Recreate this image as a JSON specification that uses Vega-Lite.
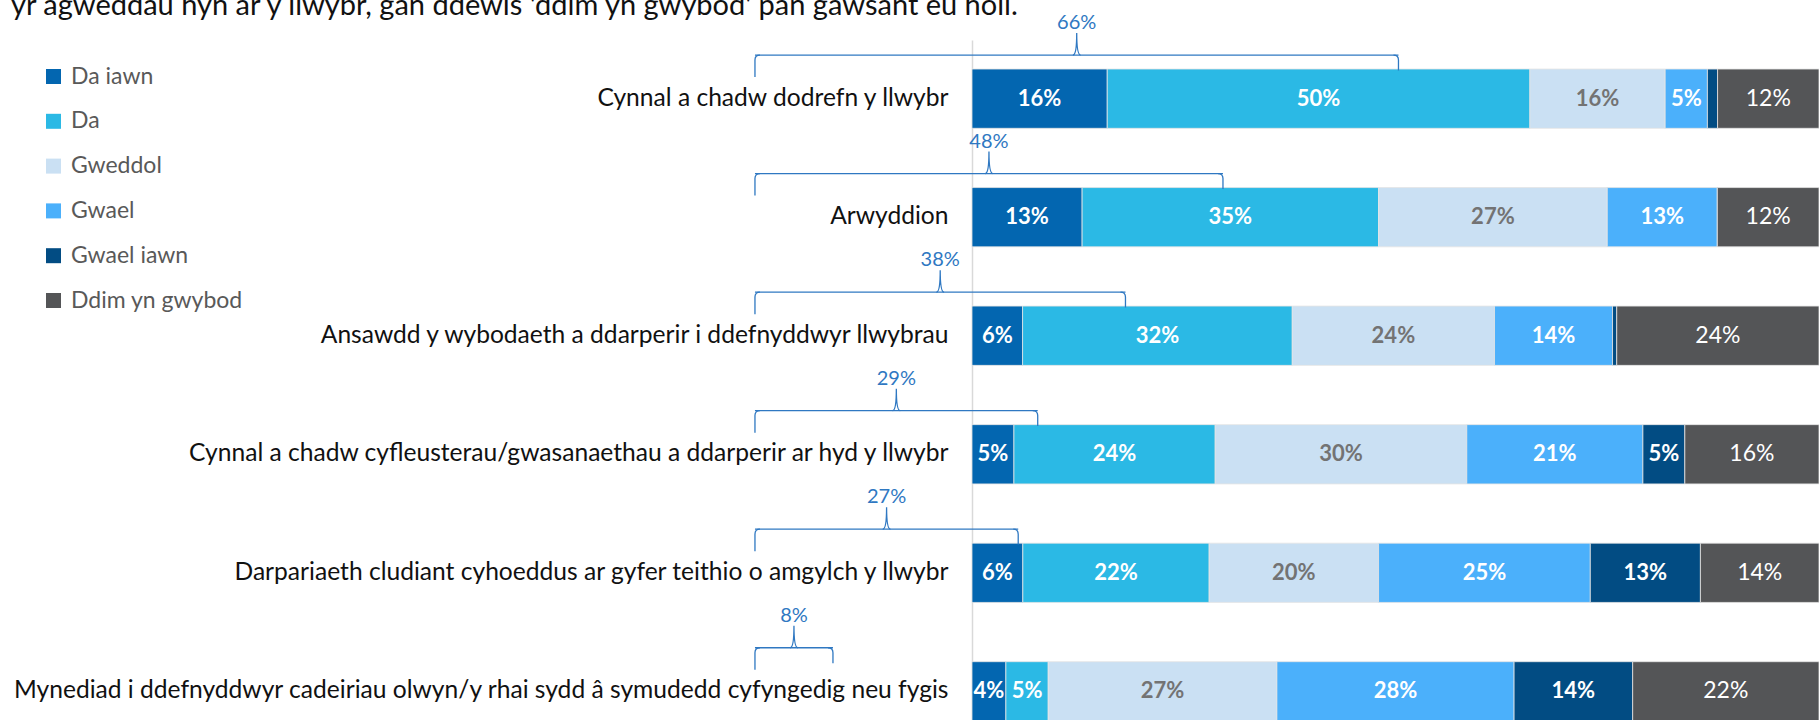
{
  "$schema": "https://vega.github.io/schema/vega-lite/v6.json",
  "width": 847,
  "height": 710,
  "autosize": {"type": "none"},
  "padding": {"left": 972, "top": 40, "right": 0, "bottom": 0},
  "background": "white",
  "config": {"view": {"stroke": null}, "font": "Lato"},
  "title": {
    "text": "yr agweddau hyn ar y llwybr, gan ddewis 'ddim yn gwybod' pan gawsant eu holi.",
    "anchor": "start", "frame": "group", "orient": "top", "offset": 0,
    "baseline": "alphabetic", "dx": -961, "dy": 31,
    "font": "Lato", "fontSize": 29, "fontWeight": "normal", "color": "#111111"
  },
  "datasets": {
    "ratings": [
      {"item": "Cynnal a chadw dodrefn y llwybr", "cat": "Da iawn", "rank": 1, "value": 0.16},
      {"item": "Cynnal a chadw dodrefn y llwybr", "cat": "Da", "rank": 2, "value": 0.50},
      {"item": "Cynnal a chadw dodrefn y llwybr", "cat": "Gweddol", "rank": 3, "value": 0.16},
      {"item": "Cynnal a chadw dodrefn y llwybr", "cat": "Gwael", "rank": 4, "value": 0.05},
      {"item": "Cynnal a chadw dodrefn y llwybr", "cat": "Gwael iawn", "rank": 5, "value": 0.012},
      {"item": "Cynnal a chadw dodrefn y llwybr", "cat": "Ddim yn gwybod", "rank": 6, "value": 0.12},
      {"item": "Arwyddion", "cat": "Da iawn", "rank": 1, "value": 0.13},
      {"item": "Arwyddion", "cat": "Da", "rank": 2, "value": 0.35},
      {"item": "Arwyddion", "cat": "Gweddol", "rank": 3, "value": 0.27},
      {"item": "Arwyddion", "cat": "Gwael", "rank": 4, "value": 0.13},
      {"item": "Arwyddion", "cat": "Gwael iawn", "rank": 5, "value": 0},
      {"item": "Arwyddion", "cat": "Ddim yn gwybod", "rank": 6, "value": 0.12},
      {"item": "Ansawdd y wybodaeth a ddarperir i ddefnyddwyr llwybrau", "cat": "Da iawn", "rank": 1, "value": 0.06},
      {"item": "Ansawdd y wybodaeth a ddarperir i ddefnyddwyr llwybrau", "cat": "Da", "rank": 2, "value": 0.32},
      {"item": "Ansawdd y wybodaeth a ddarperir i ddefnyddwyr llwybrau", "cat": "Gweddol", "rank": 3, "value": 0.24},
      {"item": "Ansawdd y wybodaeth a ddarperir i ddefnyddwyr llwybrau", "cat": "Gwael", "rank": 4, "value": 0.14},
      {"item": "Ansawdd y wybodaeth a ddarperir i ddefnyddwyr llwybrau", "cat": "Gwael iawn", "rank": 5, "value": 0.005},
      {"item": "Ansawdd y wybodaeth a ddarperir i ddefnyddwyr llwybrau", "cat": "Ddim yn gwybod", "rank": 6, "value": 0.24},
      {"item": "Cynnal a chadw cyfleusterau/gwasanaethau a ddarperir ar hyd y llwybr", "cat": "Da iawn", "rank": 1, "value": 0.05},
      {"item": "Cynnal a chadw cyfleusterau/gwasanaethau a ddarperir ar hyd y llwybr", "cat": "Da", "rank": 2, "value": 0.24},
      {"item": "Cynnal a chadw cyfleusterau/gwasanaethau a ddarperir ar hyd y llwybr", "cat": "Gweddol", "rank": 3, "value": 0.30},
      {"item": "Cynnal a chadw cyfleusterau/gwasanaethau a ddarperir ar hyd y llwybr", "cat": "Gwael", "rank": 4, "value": 0.21},
      {"item": "Cynnal a chadw cyfleusterau/gwasanaethau a ddarperir ar hyd y llwybr", "cat": "Gwael iawn", "rank": 5, "value": 0.05},
      {"item": "Cynnal a chadw cyfleusterau/gwasanaethau a ddarperir ar hyd y llwybr", "cat": "Ddim yn gwybod", "rank": 6, "value": 0.16},
      {"item": "Darpariaeth cludiant cyhoeddus ar gyfer teithio o amgylch y llwybr", "cat": "Da iawn", "rank": 1, "value": 0.06},
      {"item": "Darpariaeth cludiant cyhoeddus ar gyfer teithio o amgylch y llwybr", "cat": "Da", "rank": 2, "value": 0.22},
      {"item": "Darpariaeth cludiant cyhoeddus ar gyfer teithio o amgylch y llwybr", "cat": "Gweddol", "rank": 3, "value": 0.20},
      {"item": "Darpariaeth cludiant cyhoeddus ar gyfer teithio o amgylch y llwybr", "cat": "Gwael", "rank": 4, "value": 0.25},
      {"item": "Darpariaeth cludiant cyhoeddus ar gyfer teithio o amgylch y llwybr", "cat": "Gwael iawn", "rank": 5, "value": 0.13},
      {"item": "Darpariaeth cludiant cyhoeddus ar gyfer teithio o amgylch y llwybr", "cat": "Ddim yn gwybod", "rank": 6, "value": 0.14},
      {"item": "Mynediad i ddefnyddwyr cadeiriau olwyn/y rhai sydd â symudedd cyfyngedig neu fygis", "cat": "Da iawn", "rank": 1, "value": 0.04},
      {"item": "Mynediad i ddefnyddwyr cadeiriau olwyn/y rhai sydd â symudedd cyfyngedig neu fygis", "cat": "Da", "rank": 2, "value": 0.05},
      {"item": "Mynediad i ddefnyddwyr cadeiriau olwyn/y rhai sydd â symudedd cyfyngedig neu fygis", "cat": "Gweddol", "rank": 3, "value": 0.27},
      {"item": "Mynediad i ddefnyddwyr cadeiriau olwyn/y rhai sydd â symudedd cyfyngedig neu fygis", "cat": "Gwael", "rank": 4, "value": 0.28},
      {"item": "Mynediad i ddefnyddwyr cadeiriau olwyn/y rhai sydd â symudedd cyfyngedig neu fygis", "cat": "Gwael iawn", "rank": 5, "value": 0.14},
      {"item": "Mynediad i ddefnyddwyr cadeiriau olwyn/y rhai sydd â symudedd cyfyngedig neu fygis", "cat": "Ddim yn gwybod", "rank": 6, "value": 0.22}
    ],
    "brackets": [
      {"item": "Cynnal a chadw dodrefn y llwybr", "good": 0.66},
      {"item": "Arwyddion", "good": 0.48},
      {"item": "Ansawdd y wybodaeth a ddarperir i ddefnyddwyr llwybrau", "good": 0.38},
      {"item": "Cynnal a chadw cyfleusterau/gwasanaethau a ddarperir ar hyd y llwybr", "good": 0.29},
      {"item": "Darpariaeth cludiant cyhoeddus ar gyfer teithio o amgylch y llwybr", "good": 0.27},
      {"item": "Mynediad i ddefnyddwyr cadeiriau olwyn/y rhai sydd â symudedd cyfyngedig neu fygis", "good": 0.08}
    ]
  },
  "layer": [
    {
      "data": {"name": "ratings"},
      "encoding": {
        "y": {
          "field": "item", "type": "nominal",
          "sort": [
            "Cynnal a chadw dodrefn y llwybr",
            "Arwyddion",
            "Ansawdd y wybodaeth a ddarperir i ddefnyddwyr llwybrau",
            "Cynnal a chadw cyfleusterau/gwasanaethau a ddarperir ar hyd y llwybr",
            "Darpariaeth cludiant cyhoeddus ar gyfer teithio o amgylch y llwybr",
            "Mynediad i ddefnyddwyr cadeiriau olwyn/y rhai sydd â symudedd cyfyngedig neu fygis"
          ],
          "scale": {"paddingInner": 0.5, "paddingOuter": 0.245},
          "axis": {
            "title": null, "ticks": false, "domain": true, "domainColor": "#d9d9d9", "domainWidth": 1.5,
            "labelFont": "Lato", "labelFontSize": 24.6, "labelColor": "#111111", "labelPadding": 24,
            "labelLimit": 1000, "grid": false
          }
        },
        "order": {"field": "rank", "type": "quantitative"}
      },
      "layer": [
        {
          "mark": {"type": "bar", "stroke": "#e4e4e4", "strokeWidth": 0.8},
          "encoding": {
            "x": {"field": "value", "type": "quantitative", "stack": "normalize", "axis": null},
            "color": {
              "field": "cat", "type": "nominal",
              "scale": {
                "domain": ["Da iawn", "Da", "Gweddol", "Gwael", "Gwael iawn", "Ddim yn gwybod"],
                "range": ["#0366b0", "#2bb9e5", "#cae0f3", "#4bb0fb", "#024c83", "#545557"]
              },
              "legend": {
                "title": null, "orient": "none", "legendX": -930, "legendY": 25,
                "symbolType": "square", "symbolSize": 225, "symbolStrokeWidth": 0,
                "labelFont": "Lato", "labelFontSize": 23, "labelColor": "#595959", "labelOffset": 6,
                "labelLimit": 400, "rowPadding": 20.8
              }
            }
          }
        },
        {
          "mark": {"type": "text", "font": "Lato", "fontSize": 22, "fontWeight": "bold", "baseline": "middle"},
          "encoding": {
            "x": {"field": "value", "type": "quantitative", "stack": "normalize", "bandPosition": 0.5},
            "text": {
              "condition": {"test": "datum.value < 0.035 || datum.cat === 'Ddim yn gwybod'", "value": ""},
              "field": "value", "type": "quantitative", "format": ".0%"
            },
            "color": {
              "condition": {"test": "datum.cat === 'Gweddol'", "value": "#737373"},
              "value": "#ffffff"
            }
          }
        },
        {
          "mark": {"type": "text", "font": "Lato", "fontSize": 23, "fontWeight": "normal", "baseline": "middle", "color": "#ffffff"},
          "encoding": {
            "x": {"field": "value", "type": "quantitative", "stack": "normalize", "bandPosition": 0.5},
            "text": {
              "condition": {"test": "datum.cat !== 'Ddim yn gwybod'", "value": ""},
              "field": "value", "type": "quantitative", "format": ".0%"
            }
          }
        }
      ]
    },
    {
      "data": {"name": "brackets"},
      "encoding": {
        "y": {
          "field": "item", "type": "nominal",
          "sort": [
            "Cynnal a chadw dodrefn y llwybr",
            "Arwyddion",
            "Ansawdd y wybodaeth a ddarperir i ddefnyddwyr llwybrau",
            "Cynnal a chadw cyfleusterau/gwasanaethau a ddarperir ar hyd y llwybr",
            "Darpariaeth cludiant cyhoeddus ar gyfer teithio o amgylch y llwybr",
            "Mynediad i ddefnyddwyr cadeiriau olwyn/y rhai sydd â symudedd cyfyngedig neu fygis"
          ]
        }
      },
      "layer": [
        {
          "mark": {"type": "bar", "color": "#2f78c2", "height": 1.3, "yOffset": -43.6},
          "encoding": {
            "x": {"field": "good", "type": "quantitative", "stack": "zero", "scale": {"domain": [0.2226, 1.0913], "zero": false, "nice": false}, "axis": null}
          }
        },
        {
          "mark": {"type": "point", "shape": "M0.45,-1 Q0,-1 0,-0.55 L0,1", "size": 484, "filled": false, "stroke": "#2f78c2", "strokeWidth": 1.3, "opacity": 1, "yOffset": -32.6},
          "encoding": {
            "x": {"field": "good", "type": "quantitative", "stack": "zero", "bandPosition": 0}
          }
        },
        {
          "mark": {"type": "point", "shape": "M-0.45,-1 Q0,-1 0,-0.55 L0,0.4", "size": 484, "filled": false, "stroke": "#2f78c2", "strokeWidth": 1.3, "opacity": 1, "yOffset": -32.6},
          "encoding": {
            "x": {"field": "good", "type": "quantitative"}
          }
        },
        {
          "mark": {"type": "point", "shape": "M-0.35,1 Q0,1 0,-1 Q0,1 0.35,1", "size": 484, "filled": false, "stroke": "#2f78c2", "strokeWidth": 1.3, "opacity": 1, "yOffset": -54.6},
          "encoding": {
            "x": {"field": "good", "type": "quantitative", "stack": "zero", "bandPosition": 0.5}
          }
        },
        {
          "mark": {"type": "text", "font": "Lato", "fontSize": 20, "color": "#2f78c2", "baseline": "middle", "yOffset": -75.6},
          "encoding": {
            "x": {"field": "good", "type": "quantitative", "stack": "zero", "bandPosition": 0.5},
            "text": {"field": "good", "type": "quantitative", "format": ".0%"}
          }
        }
      ]
    }
  ],
  "resolve": {"scale": {"x": "independent"}}
}
